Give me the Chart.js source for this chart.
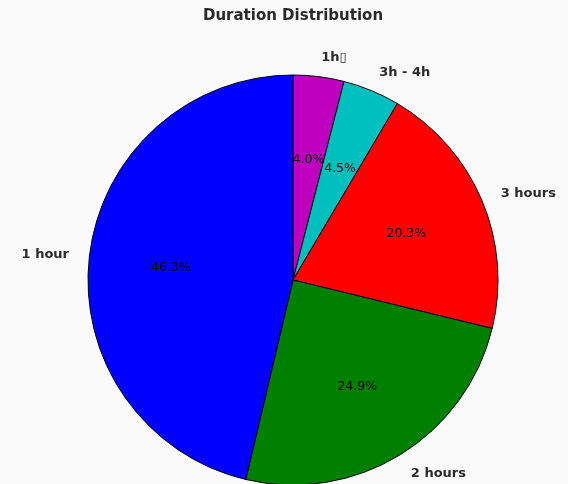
<!DOCTYPE html>
<html>
<head>
<meta charset="utf-8">
<script src="https://cdn.jsdelivr.net/npm/chart.js@4/dist/chart.umd.min.js"></script>
<style>
  html, body { margin: 0; padding: 0; background: #fafafa; overflow: hidden; }
  #wrap { width: 568px; height: 560px; }
</style>
</head>
<body>
<div id="wrap"><canvas id="pieChart"></canvas></div>
<script>
// Slices listed clockwise from 12 o'clock (Chart.js draws clockwise)
const labels = ["1h\u25AF", "3h - 4h", "3 hours", "2 hours", "1 hour"];
const shares = [4.0, 4.5, 20.3, 24.9, 46.3];
const colors = ["#BF00BF", "#00BFBF", "#FF0000", "#008000", "#0000FF"];

// Draws the outer labels and the percentage text, matplotlib style
const pieLabels = {
  id: "pieLabels",
  afterDatasetsDraw(chart) {
    const ctx = chart.ctx;
    const meta = chart.getDatasetMeta(0);
    const total = shares.reduce((a, b) => a + b, 0);
    ctx.save();
    ctx.textBaseline = "middle";
    meta.data.forEach((arc, i) => {
      const { x, y, startAngle, endAngle, outerRadius } = arc.getProps(
        ["x", "y", "startAngle", "endAngle", "outerRadius"], true);
      const mid = (startAngle + endAngle) / 2;
      const cos = Math.cos(mid), sin = Math.sin(mid);

      // category label outside
      ctx.font = "bold 13px 'DejaVu Sans'";
      ctx.fillStyle = "#2a2a2a";
      ctx.textAlign = cos > 0 ? "left" : "right";
      ctx.fillText(labels[i], x + cos * outerRadius * 1.1, y + sin * outerRadius * 1.1 + 1);

      // percentage inside
      ctx.font = "12.5px 'DejaVu Sans'";
      ctx.fillStyle = "#000";
      ctx.textAlign = "center";
      const pct = (shares[i] / total * 100).toFixed(1) + "%";
      ctx.fillText(pct, x + cos * outerRadius * 0.6, y + sin * outerRadius * 0.6 + 2);
    });
    ctx.restore();
  },
};

const ctx = document.getElementById("pieChart").getContext("2d");
const pieChart = new Chart(ctx, {
  type: "pie",
  data: {
    labels: labels,
    datasets: [
      {
        data: shares,
        backgroundColor: colors,
        borderColor: "#000",
        borderWidth: 1,
        hoverOffset: 0,
      },
    ],
  },
  options: {
    responsive: true,
    maintainAspectRatio: false,
    animation: false,
    radius: 205,
    layout: {
      padding: { left: 18, right: 0, top: 0, bottom: 25 },
    },
    plugins: {
      legend: { display: false },
      tooltip: { enabled: false },
      title: {
        display: true,
        text: "Duration Distribution",
        color: "#2a2a2a",
        font: { family: "'DejaVu Sans'", size: 15, weight: "bold", lineHeight: 1.2 },
        padding: { top: 7, bottom: 0 },
      },
    },
  },
  plugins: [pieLabels],
});
</script>
</body>
</html>
